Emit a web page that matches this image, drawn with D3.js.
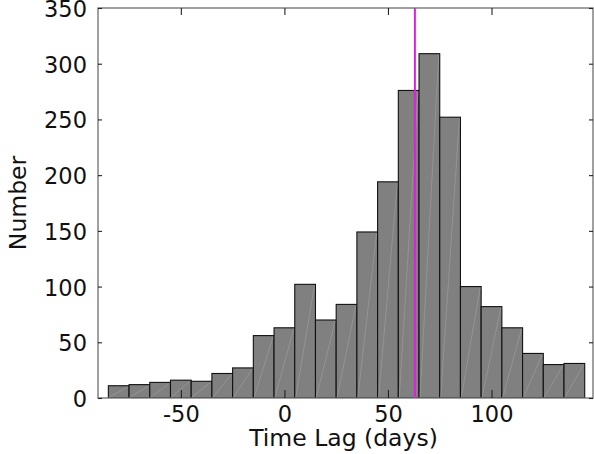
<!DOCTYPE html>
<html>
<head>
<meta charset="utf-8">
<script src="https://cdn.jsdelivr.net/npm/d3@7"></script>
<style>
  html, body { margin: 0; padding: 0; background: #fff; }
  svg { display: block; }
  text { font-family: "DejaVu Sans", sans-serif; fill: #111; }
</style>
</head>
<body>
<svg id="chart" width="594" height="454"></svg>
<script>
// Histogram bins (left edges, days) and counts
const binStarts = [-85, -75, -65, -55, -45, -35, -25, -15, -5, 5, 15, 25, 35, 45, 55, 65, 75, 85, 95, 105, 115, 125, 135];
const binWidth = 10;
const counts = [11, 12, 14, 16, 15, 22, 27, 56, 63, 102, 70, 84, 149, 194, 276, 309, 252, 100, 82, 63, 40, 30, 31];
const markerLag = [63];
const xTicks = [-50, 0, 50, 100];
const yTicks = [0, 50, 100, 150, 200, 250, 300, 350];
const xDomain = [-90, 149];
const yDomain = [0, 350];

(function () {
const svg = d3.select("#chart");
const pL = 98, pR = 593, pT = 8, pB = 398;
const fmt = d => String(d);  // plain hyphen-minus like the reference
const tickFont = 22.5;

const x = d3.scaleLinear().domain(xDomain).range([pL, pR]);
const y = d3.scaleLinear().domain(yDomain).range([pB, pT]);

const data = binStarts.map((s, i) => ({ x0: s, x1: s + binWidth, v: counts[i] }));

svg.append("clipPath").attr("id", "plotclip")
  .append("rect").attr("x", pL).attr("y", pT).attr("width", pR - pL).attr("height", pB - pT);

const g = svg.append("g").attr("clip-path", "url(#plotclip)");

g.selectAll("rect.bar").data(data).join("rect")
  .attr("class", "bar")
  .attr("x", d => x(d.x0))
  .attr("y", d => y(d.v))
  .attr("width", d => x(d.x1) - x(d.x0))
  .attr("height", d => y(0) - y(d.v))
  .attr("fill", "#808080")
  .attr("stroke", "#111")
  .attr("stroke-width", 1.1);

// faint rendering seams (diagonals) seen in the bars
g.selectAll("line.seam").data(data).join("line")
  .attr("class", "seam")
  .attr("x1", d => x(d.x0) + 1).attr("y1", y(0) - 1)
  .attr("x2", d => x(d.x1) - 1).attr("y2", d => y(d.v) + 1)
  .attr("stroke", "#b0b0b0")
  .attr("stroke-width", 0.6)
  .attr("opacity", 0.7);

g.selectAll("line.marker").data(markerLag).join("line")
  .attr("class", "marker")
  .attr("x1", d => x(d)).attr("x2", d => x(d))
  .attr("y1", pT).attr("y2", pB)
  .attr("stroke", "#e619e6")
  .attr("stroke-width", 2);

// Axes box
const axisColor = "#6e6e6e";
svg.append("rect")
  .attr("x", pL).attr("y", pT)
  .attr("width", pR - pL).attr("height", pB - pT)
  .attr("fill", "none").attr("stroke", axisColor).attr("stroke-width", 1.3);

// Bottom axis (ticks inward)
const xAxisB = d3.axisBottom(x).tickValues(xTicks).tickSizeInner(-8).tickSizeOuter(0).tickPadding(8).tickFormat(fmt);
const gxb = svg.append("g").attr("transform", `translate(0,${pB})`).call(xAxisB);
gxb.select(".domain").remove();
gxb.selectAll("line").attr("stroke", "#222").attr("stroke-width", 1.1);
gxb.selectAll("text").attr("font-size", tickFont).attr("fill", "#111").attr("font-family", "DejaVu Sans, sans-serif");

// Top axis (ticks inward, no labels)
const xAxisT = d3.axisTop(x).tickValues(xTicks).tickSizeInner(-7).tickSizeOuter(0).tickFormat("");
const gxt = svg.append("g").attr("transform", `translate(0,${pT})`).call(xAxisT);
gxt.select(".domain").remove();
gxt.selectAll("line").attr("stroke", "#222").attr("stroke-width", 1.1);

// Left axis
const yAxisL = d3.axisLeft(y).tickValues(yTicks).tickSizeInner(-4).tickSizeOuter(0).tickPadding(11).tickFormat(fmt);
const gyl = svg.append("g").attr("transform", `translate(${pL},0)`).call(yAxisL);
gyl.select(".domain").remove();
gyl.selectAll("line").attr("stroke", "#222").attr("stroke-width", 1.1);
gyl.selectAll("text").attr("font-size", tickFont).attr("fill", "#111").attr("font-family", "DejaVu Sans, sans-serif")
  .attr("dy", "0.38em");

// Right axis (ticks inward, no labels)
const yAxisR = d3.axisRight(y).tickValues(yTicks).tickSizeInner(-4).tickSizeOuter(0).tickFormat("");
const gyr = svg.append("g").attr("transform", `translate(${pR},0)`).call(yAxisR);
gyr.select(".domain").remove();
gyr.selectAll("line").attr("stroke", "#222").attr("stroke-width", 1.1);

// Axis labels
svg.append("text")
  .attr("x", 343.5).attr("y", 446)
  .attr("text-anchor", "middle").attr("font-size", 23.5)
  .text("Time Lag (days)");

svg.append("text")
  .attr("transform", `translate(26,${(pT + pB) / 2}) rotate(-90)`)
  .attr("text-anchor", "middle").attr("font-size", 23.5)
  .text("Number");
})();
</script>
</body>
</html>
